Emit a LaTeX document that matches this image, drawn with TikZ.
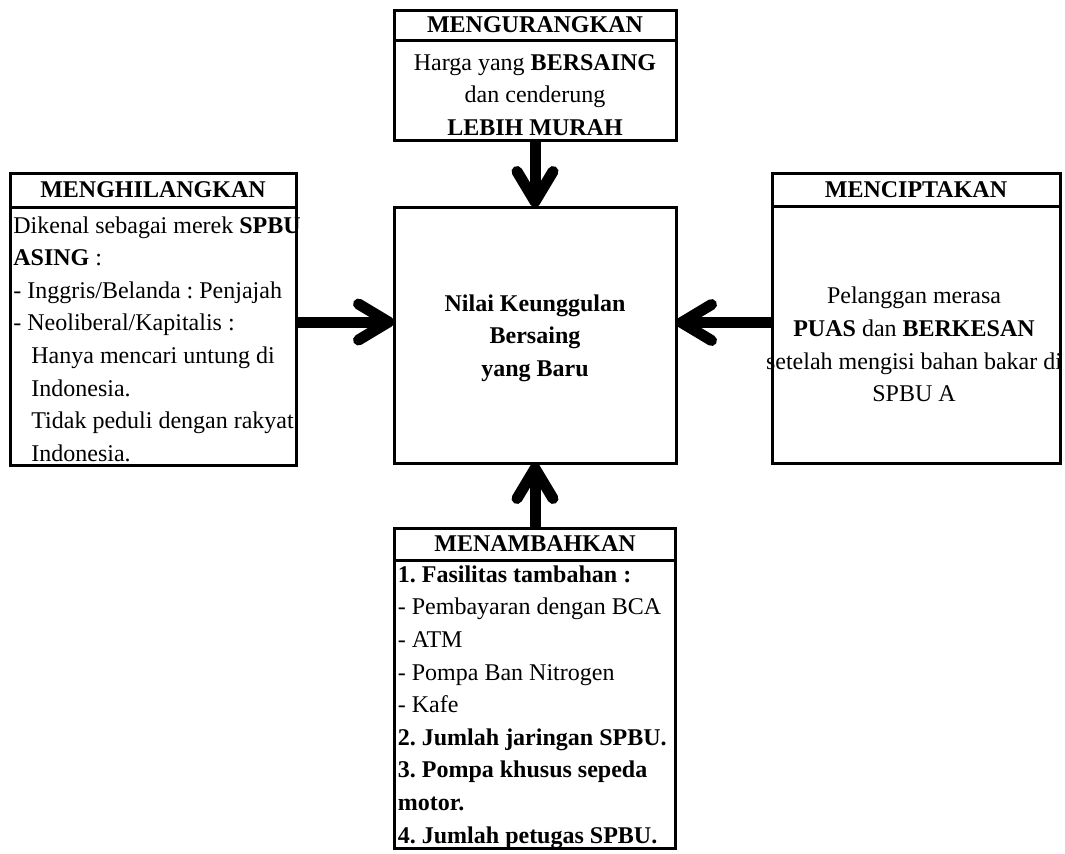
\documentclass[tikz,border=0pt]{standalone}
\usepackage{fontspec}
\setmainfont{Liberation Serif}
\usetikzlibrary{arrows.meta,positioning}
\frenchspacing

\begin{document}
\begin{tikzpicture}[x=0.5pt, y=-0.5pt, node distance=0pt,
    teks/.style={font=\fontsize{12}{16.3}\selectfont, inner sep=0pt},
    judul/.style={rectangle, draw, line width=1.5pt, outer sep=0pt, inner sep=0pt, font=\fontsize{12}{16.3}\selectfont\bfseries, minimum height=16pt},
    isi/.style={rectangle, draw, line width=1.5pt, outer sep=0pt, inner sep=0pt},
    panah/.style={draw, line width=5.5pt, -{Straight Barb[round, length=15pt, width=18pt]}}]

    \useasboundingbox (0,0) rectangle (1065,853);

    \node [judul, minimum width=141pt, minimum height=15pt] (kurang) at (535,25) {MENGURANGKAN};
    \node [isi, below=of kurang, minimum width=141pt, minimum height=50pt] (kurangisi) {};
    \node [teks, align=center] (kurangteks) at ([yshift=-2.5pt]kurangisi.center)
        {Harga yang \textbf{BERSAING}\\ dan cenderung\\ \textbf{LEBIH MURAH}};

    \node [isi, minimum width=141pt, minimum height=128pt] (nilai) at (535,335) {};
    \node [teks, align=center, font=\fontsize{12}{16.3}\selectfont\bfseries] (nilaiteks) at ([yshift=-1.5pt]nilai.center)
        {Nilai Keunggulan\\ Bersaing\\ yang Baru};

    \node [judul, minimum width=143pt, minimum height=17pt] (hilang) at (153,190) {MENGHILANGKAN};
    \node [isi, below=of hilang, minimum width=143pt, minimum height=129pt] (hilangisi) {};
    \node [teks, align=left, anchor=west] (hilangteks) at ([xshift=1.5pt, yshift=-1.5pt]hilangisi.west)
        {Dikenal sebagai merek \textbf{SPBU}\\ \textbf{ASING} :\\ - Inggris/Belanda : Penjajah\\ - Neoliberal/Kapitalis :\\
         \hspace*{9pt}Hanya mencari untung di\\ \hspace*{9pt}Indonesia.\\ \hspace*{9pt}Tidak peduli dengan rakyat\\ \hspace*{9pt}Indonesia.};

    \node [judul, minimum width=144pt, minimum height=16.5pt] (cipta) at (916,189.5) {MENCIPTAKAN};
    \node [isi, below=of cipta, minimum width=144pt, minimum height=128.5pt] (ciptaisi) {};
    \node [teks, align=center] (ciptateks) at ([xshift=-1pt, yshift=-5pt]ciptaisi.center)
        {Pelanggan merasa\\ \textbf{PUAS} dan \textbf{BERKESAN}\\ setelah mengisi bahan bakar di\\ SPBU A};

    \node [judul, minimum width=140.5pt] (tambah) at (535,544) {MENAMBAHKAN};
    \node [isi, below=of tambah, minimum width=140.5pt, minimum height=144pt] (tambahisi) {};
    \node [teks, align=left, anchor=west] (tambahteks) at ([xshift=1.5pt, yshift=-1.5pt]tambahisi.west)
        {\textbf{1. Fasilitas tambahan :}\\ - Pembayaran dengan BCA\\ - ATM\\ - Pompa Ban Nitrogen\\ - Kafe\\
         \textbf{2. Jumlah jaringan SPBU.}\\ \textbf{3. Pompa khusus sepeda}\\ \textbf{motor.}\\ \textbf{4. Jumlah petugas SPBU.}};

    \path [panah] (kurangisi) -- (nilai);
    \path [panah] ([yshift=7pt]hilangisi.east) -- ([yshift=7pt]hilangisi.east -| nilai.west);
    \path [panah] ([yshift=6pt]ciptaisi.west) -- ([yshift=6pt]ciptaisi.west -| nilai.east);
    \path [panah] (tambah) -- (nilai);
\end{tikzpicture}
\end{document}
